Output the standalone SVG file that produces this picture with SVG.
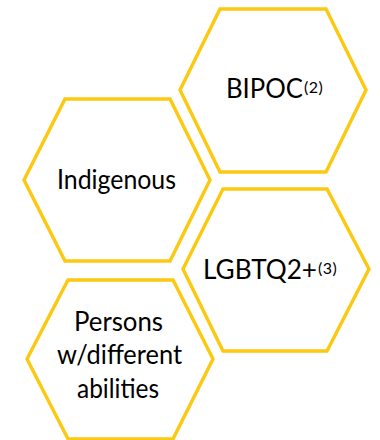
<svg xmlns="http://www.w3.org/2000/svg" width="380" height="440" viewBox="0 0 380 440">
  <style>
    .hex { fill: #ffffff; stroke: #FCC810; stroke-width: 3.4; stroke-linejoin: miter; }
    .label { font-family: "Lato", "Open Sans", "Liberation Sans", sans-serif; font-size: 26px; fill: #000000; }
    .sup { font-size: 16px; letter-spacing: 0.5px; }
  </style>
  <rect width="380" height="440" fill="#ffffff"/>

  <g id="bipoc">
    <polygon class="hex" points="220,9 326,9 366,90 326,172 220,172 180,90"/>
    <text class="label" x="226" y="98" textLength="77" lengthAdjust="spacingAndGlyphs">BIPOC</text>
    <text class="label sup" x="304" y="93">(2)</text>
  </g>

  <g id="indigenous">
    <polygon class="hex" points="65,99 170,99 210,180 170,261 65,261 24,180"/>
    <text class="label" x="57" y="189" textLength="119" lengthAdjust="spacingAndGlyphs">Indigenous</text>
  </g>

  <g id="lgbtq">
    <polygon class="hex" points="223,189 327,189 369,269 327,351 223,351 183,269"/>
    <text class="label" x="203" y="279" textLength="114" lengthAdjust="spacingAndGlyphs">LGBTQ2+</text>
    <text class="label sup" x="318" y="274">(3)</text>
  </g>

  <g id="abilities">
    <polygon class="hex" points="68,280 173,280 213,359 173,439 68,439 27,359"/>
    <text class="label" x="74" y="331" textLength="89" lengthAdjust="spacingAndGlyphs">Persons</text>
    <text class="label" x="57" y="364" textLength="125" lengthAdjust="spacingAndGlyphs">w/different</text>
    <text class="label" x="77" y="398" textLength="82" lengthAdjust="spacingAndGlyphs">abilities</text>
  </g>

  <g id="connectors"/>
</svg>
